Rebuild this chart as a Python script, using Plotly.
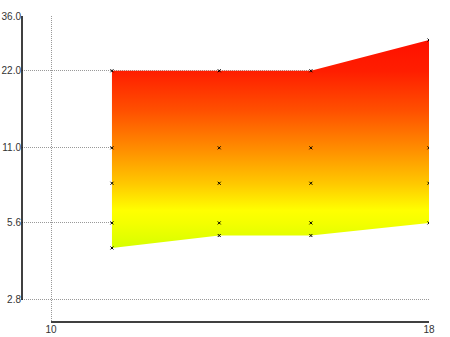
import plotly.graph_objects as go

# --- data ---
col_x = [11.29, 13.56, 15.5, 18.0]          # x positions of the columns
top_y = [22.0, 22.0, 22.0, 29.0]            # upper edge of the filled region
bottom_y = [4.47, 5.0, 5.0, 5.6]            # lower edge of the filled region

pts_x = [11.29]*5 + [13.56]*5 + [15.5]*5 + [18.0]*4
pts_y = [22.0, 11.0, 8.0, 5.6, 4.47,
         22.0, 11.0, 8.0, 5.6, 5.0,
         22.0, 11.0, 8.0, 5.6, 5.0,
         29.0, 11.0, 8.0, 5.6]

x_ticks = [10, 18]
y_ticks = [2.8, 5.6, 11.0, 22.0, 36.0]
y_tick_text = ["2.8", "5.6", "11.0", "22.0", "36.0"]

fill_scale = [
    [0.00, "#d6ff00"],
    [0.12, "#f4ff00"],
    [0.18, "#ffff00"],
    [0.31, "#ffc800"],
    [0.48, "#ff8c00"],
    [0.66, "#ff5000"],
    [0.85, "#ff1e00"],
    [1.00, "#ff1000"],
]

poly_x = col_x + col_x[::-1]
poly_y = top_y + bottom_y[::-1]

fig = go.Figure()
fig.add_trace(go.Scatter(
    x=poly_x, y=poly_y, mode="lines", fill="toself",
    line=dict(width=0, color="rgba(0,0,0,0)"),
    fillgradient=dict(type="vertical", colorscale=fill_scale),
    hoverinfo="skip", showlegend=False,
))
fig.add_trace(go.Scatter(
    x=pts_x, y=pts_y, mode="markers",
    marker=dict(symbol="x-thin", size=3, color="black",
                line=dict(width=1, color="black")),
    showlegend=False,
))

grid = dict(gridcolor="#999999", gridwidth=1, griddash="1px,1px")
fig.update_xaxes(range=[9.386, 18.0], tickvals=x_ticks, showline=False,
                 zeroline=False, ticks="", automargin=False, **grid)
fig.update_yaxes(type="log", range=[0.3612, 1.5563], tickvals=y_ticks,
                 ticktext=y_tick_text, showline=False, zeroline=False,
                 ticks="", automargin=False, **grid)

# axis lines spanning only the tick range
fig.add_shape(type="line", xref="paper", yref="y", x0=0, x1=0,
              y0=min(y_ticks), y1=max(y_ticks),
              line=dict(color="black", width=1.5))
fig.add_shape(type="line", xref="x", yref="paper", x0=min(x_ticks),
              x1=max(x_ticks), y0=0, y1=0,
              line=dict(color="black", width=1.5))

fig.update_layout(
    width=450, height=337,
    margin=dict(l=22, r=21, t=16, b=15),
    paper_bgcolor="white", plot_bgcolor="white",
    font=dict(family="Liberation Sans, Arial, sans-serif", size=10, color="#333333"),
)

fig.write_html("out.html")
